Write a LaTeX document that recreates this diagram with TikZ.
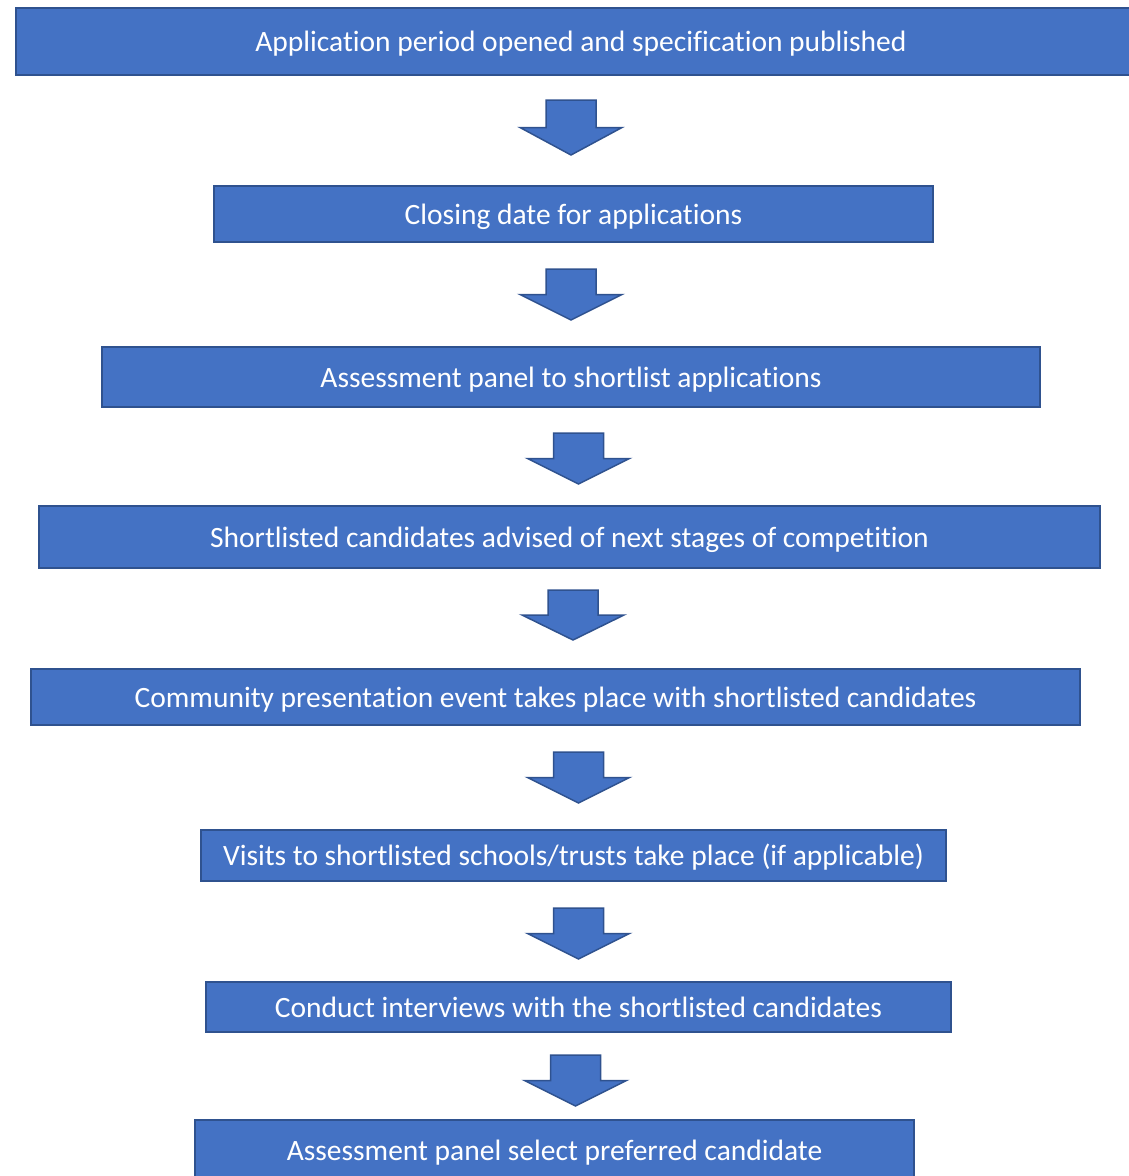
\documentclass[tikz,border=0pt]{standalone}
\usepackage{fontspec}
\setmainfont{Carlito}[Ligatures={NoCommon}]
\usepackage{tikz}

\definecolor{boxfill}{HTML}{4472C4}
\definecolor{boxline}{HTML}{2F528F}

\tikzset{
  stage/.style={draw=boxline, fill=boxfill, line width=2pt, text=white,
    inner sep=0pt, text height=26pt, text depth=6pt,
    font=\fontsize{29.5}{34}\selectfont},
  blockarrow/.style={draw=boxline, fill=boxfill, line width=1.5pt, line join=miter}
}

\begin{document}
\begin{tikzpicture}[x=1pt, y=-1pt]
    \useasboundingbox (0,0) rectangle (1128,1176);

    % Stages of the process
    \node[stage, minimum width=1130, minimum height=67] (open) at (581,41.5) {Application period opened and specification published};
    \node[stage, minimum width=719, minimum height=56] (close) at (573.5,214) {Closing date for applications};
    \node[stage, minimum width=938, minimum height=60] (shortlist) at (571,377) {Assessment panel to shortlist applications};
    \node[stage, minimum width=1061, minimum height=62] (advise) at (569.5,537) {Shortlisted candidates advised of next stages of competition};
    \node[stage, minimum width=1049, minimum height=56] (event) at (555.5,697) {Community presentation event takes place with shortlisted candidates};
    \node[stage, minimum width=745, minimum height=51] (visits) at (573.5,855.5) {Visits to shortlisted schools/trusts take place (if applicable)};
    \node[stage, minimum width=745, minimum height=50] (interview) at (578.5,1007) {Conduct interviews with the shortlisted candidates};
    \node[stage, minimum width=719, minimum height=60] (select) at (554.5,1150) {Assessment panel select preferred candidate};

    % Block arrows between the stages: x / top / tip
    \foreach \ax/\atop/\atip in {571/100/155, 571/269/320, 578.5/433/484, 573/590/640,
                                578.5/752/803, 578.5/908/959, 575.5/1055/1106} {
        \pgfmathsetmacro{\ahead}{(\atop+\atip)/2}
        \draw[blockarrow] (\ax-25,\atop) -- (\ax+25,\atop) -- (\ax+25,\ahead)
            -- (\ax+51,\ahead) -- (\ax,\atip) -- (\ax-51,\ahead) -- (\ax-25,\ahead) -- cycle;
    }

\end{tikzpicture}
\end{document}
